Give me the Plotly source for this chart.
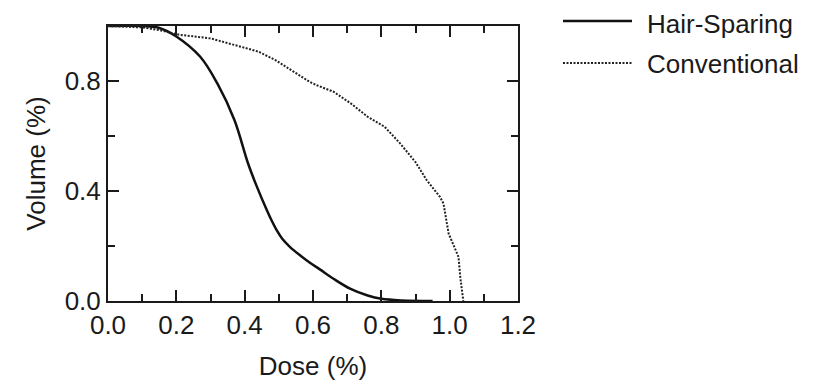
import plotly.graph_objects as go

# Data
hair_dose = [0.0, 0.10, 0.15, 0.20, 0.27, 0.32, 0.37, 0.41, 0.436, 0.465, 0.48, 0.494, 0.51, 0.533, 0.56, 0.59, 0.62, 0.66, 0.71, 0.76, 0.80, 0.86, 0.95]
hair_vol = [1.0, 1.0, 0.993, 0.962, 0.888, 0.791, 0.658, 0.50, 0.415, 0.330, 0.290, 0.257, 0.226, 0.196, 0.168, 0.140, 0.115, 0.081, 0.044, 0.020, 0.008, 0.002, 0.0]

conv_dose = [0.0, 0.10, 0.15, 0.21, 0.30, 0.37, 0.44, 0.49, 0.55, 0.59, 0.61, 0.66, 0.71, 0.76, 0.81, 0.855, 0.90, 0.933, 0.972, 0.982, 0.997, 1.016, 1.026, 1.031, 1.038, 1.04]
conv_vol = [1.0, 0.995, 0.985, 0.968, 0.955, 0.931, 0.907, 0.876, 0.828, 0.797, 0.785, 0.761, 0.719, 0.670, 0.633, 0.573, 0.505, 0.439, 0.378, 0.354, 0.245, 0.190, 0.160, 0.087, 0.008, 0.0]

series_names = ["Hair-Sparing", "Conventional"]
x_title = "Dose (%)"
y_title = "Volume (%)"

FONT = "Liberation Sans, Arial, Helvetica, sans-serif"
FS = 26
INK = "#1a1a1a"

fig = go.Figure()
fig.add_trace(go.Scatter(x=hair_dose, y=hair_vol, mode="lines", name=series_names[0],
                         line=dict(color="#111111", width=2.5, shape="spline", smoothing=1.0),
                         showlegend=False))
fig.add_trace(go.Scatter(x=conv_dose, y=conv_vol, mode="lines", name=series_names[1],
                         line=dict(color="#222222", width=2, dash="2px,1.5px"),
                         showlegend=False))

axis_common = dict(showline=True, linewidth=2, linecolor=INK, mirror="ticks",
                   ticks="inside", ticklen=11, tickwidth=2, tickcolor=INK,
                   showgrid=False, zeroline=False, tickformat=".1f", automargin=False,
                   tickfont=dict(family=FONT, size=FS, color=INK))

fig.update_xaxes(range=[0, 1.2], dtick=0.2, tick0=0,
                 minor=dict(dtick=0.1, ticks="inside", ticklen=7, tickwidth=2, tickcolor=INK),
                 title=dict(text=x_title, font=dict(family=FONT, size=FS, color=INK), standoff=18),
                 **axis_common)
fig.update_yaxes(range=[0, 1.0], dtick=0.4, tick0=0,
                 minor=dict(dtick=0.2, ticks="inside", ticklen=7, tickwidth=2, tickcolor=INK),
                 title=dict(text=y_title, font=dict(family=FONT, size=FS, color=INK), standoff=12),
                 **axis_common)

# Manual legend (positions in paper coordinates; page has an 8px body margin)
def px_x(p):
    return (p - 108) / 410.0

def px_y(p):
    return (301 - p) / 275.0

legend_rows = [(series_names[0], 21, 24, dict(color="#111111", width=2.5)),
               (series_names[1], 63, 64, dict(color="#222222", width=2, dash="2px,1.5px"))]
for name, ypix, ytext, ln in legend_rows:
    fig.add_shape(type="line", xref="paper", yref="paper",
                  x0=px_x(563), x1=px_x(632), y0=px_y(ypix), y1=px_y(ypix), line=ln)
    fig.add_annotation(xref="paper", yref="paper", x=px_x(645), y=px_y(ytext),
                       text=name, showarrow=False, xanchor="left", yanchor="middle",
                       font=dict(family=FONT, size=FS, color=INK))

fig.update_layout(width=825, height=383, margin=dict(l=100, r=315, t=18, b=90),
                  plot_bgcolor="white", paper_bgcolor="white", showlegend=False)

fig.write_html("out.html")
